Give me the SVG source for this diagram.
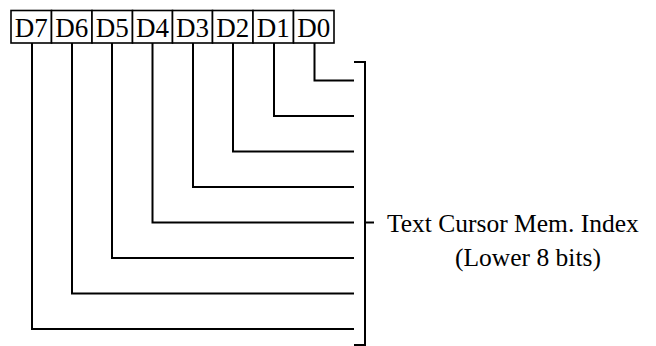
<svg xmlns="http://www.w3.org/2000/svg" width="656" height="346" viewBox="0 0 656 346">
<style>
.box{fill:#fff;stroke:#000;stroke-width:1.6}
.lbl{font-family:"Liberation Serif","Times New Roman",serif;font-size:27px;fill:#000;text-anchor:middle}
.txt{font-family:"Liberation Serif","Times New Roman",serif;font-size:25.5px;fill:#000}
.ln{fill:none;stroke:#000;stroke-width:2}
</style>
<rect width="656" height="346" fill="#fff"/>
<g id="connectors">
<polyline class="ln" points="314.5,43 314.5,80.5 354,80.5"/>
<polyline class="ln" points="274,43 274,116 354,116"/>
<polyline class="ln" points="233,43 233,151.5 354,151.5"/>
<polyline class="ln" points="193,43 193,187 354,187"/>
<polyline class="ln" points="152.5,43 152.5,222.5 354,222.5"/>
<polyline class="ln" points="112,43 112,258 354,258"/>
<polyline class="ln" points="72,43 72,293.5 354,293.5"/>
<polyline class="ln" points="32,43 32,329 354,329"/>
</g>
<g id="bracket">
<polyline class="ln" points="354,62 365,62 365,345 354,345"/>
<line class="ln" x1="365" y1="222.5" x2="374" y2="222.5"/>
</g>
<g id="D7"><rect class="box" x="11" y="10.5" width="40.5" height="32.5"/><text class="lbl" x="31.25" y="37">D7</text></g>
<g id="D6"><rect class="box" x="51.5" y="10.5" width="40.5" height="32.5"/><text class="lbl" x="71.75" y="37">D6</text></g>
<g id="D5"><rect class="box" x="92" y="10.5" width="40.5" height="32.5"/><text class="lbl" x="112.25" y="37">D5</text></g>
<g id="D4"><rect class="box" x="132.5" y="10.5" width="40" height="32.5"/><text class="lbl" x="152.5" y="37">D4</text></g>
<g id="D3"><rect class="box" x="172.5" y="10.5" width="40" height="32.5"/><text class="lbl" x="192.5" y="37">D3</text></g>
<g id="D2"><rect class="box" x="212.5" y="10.5" width="40.5" height="32.5"/><text class="lbl" x="232.75" y="37">D2</text></g>
<g id="D1"><rect class="box" x="253" y="10.5" width="40.5" height="32.5"/><text class="lbl" x="273.25" y="37">D1</text></g>
<g id="D0"><rect class="box" x="293.5" y="10.5" width="40.5" height="32.5"/><text class="lbl" x="313.75" y="37">D0</text></g>
<g id="label">
<text class="txt" x="387" y="232">Text Cursor Mem. Index</text>
<text class="txt" x="455" y="266">(Lower 8 bits)</text>
</g>
</svg>
